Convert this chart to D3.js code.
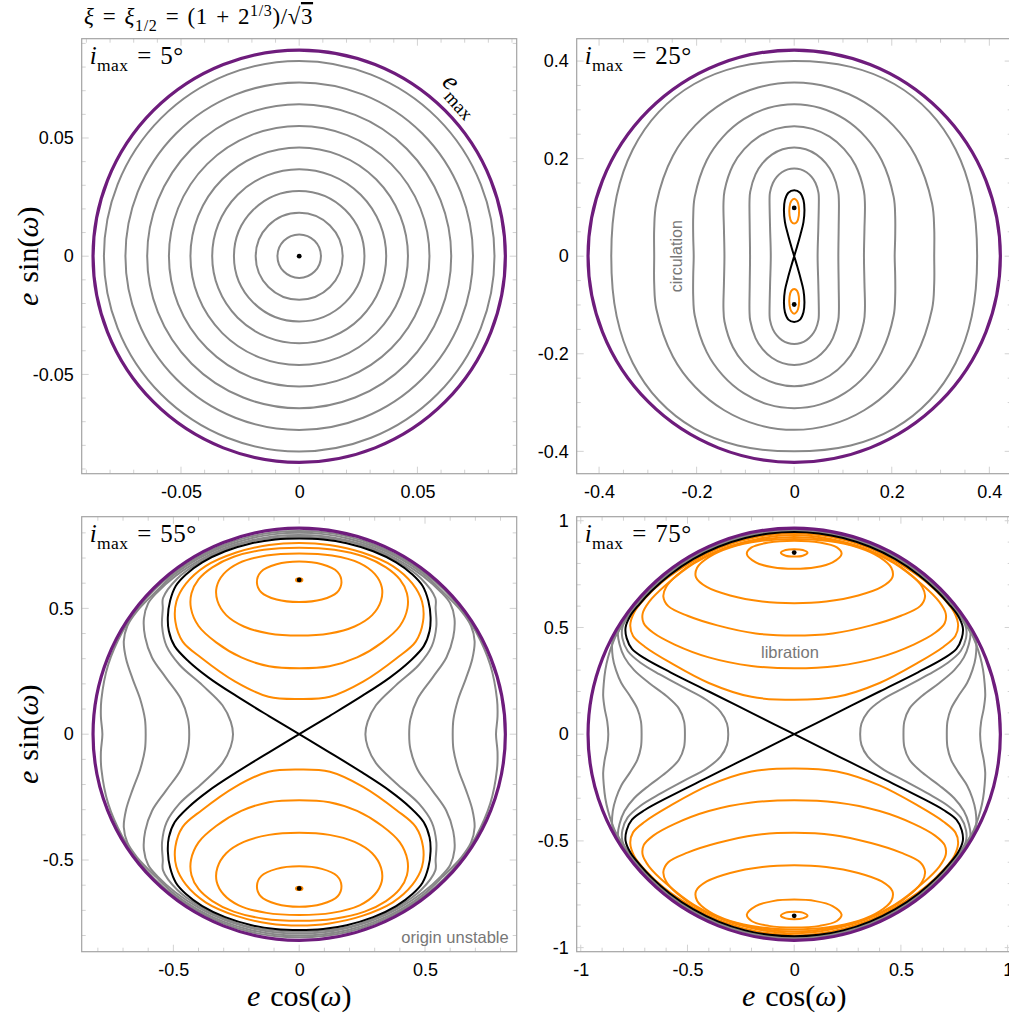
<!DOCTYPE html>
<html><head><meta charset="utf-8">
<script src="https://cdn.jsdelivr.net/npm/d3@7"></script>
<style>body{margin:0;background:#fff}svg{display:block}</style>
</head><body>
<svg id="c" width="1009" height="1019"></svg>
<script>
// ---------------- data ----------------
const iMaxDeg = [5, 25, 55, 75];
const eMaxVals = [0.0872, 0.4226, 0.8192, 0.9659];

const ticks1 = [-0.05, 0, 0.05];
const tickLabels1 = ["-0.05", "0", "0.05"];
const ticks2 = [-0.4, -0.2, 0, 0.2, 0.4];
const tickLabels2 = ["-0.4", "-0.2", "0", "0.2", "0.4"];
const ticks3 = [-0.5, 0, 0.5];
const tickLabels3 = ["-0.5", "0", "0.5"];
const ticks4 = [-1, -0.5, 0, 0.5, 1];
const tickLabels4 = ["-1", "-0.5", "0", "0.5", "1"];

// panel 1 : circulating orbits are circles (radii in e)
const p1GrayRadii = [0.0092, 0.0184, 0.0276, 0.0368, 0.046, 0.0551, 0.0643, 0.0735, 0.0826];
const p1Fixed = [[0, 0]];

// quadrant curves: from (x,0) to (0,y) ; mirrored in both axes
const p2Gray = [
  [[0.048,0],[0.0495,0.06],[0.0505,0.12],[0.0497,0.1304],[0.0437,0.15],[0.0357,0.1624],[0.0253,0.172],[0.0131,0.178],[0,0.18]],
  [[0.0905,0],[0.0912,0.06],[0.0916,0.1128],[0.0902,0.1319],[0.0793,0.1678],[0.0648,0.1906],[0.0458,0.2081],[0.0237,0.2191],[0,0.2228]],
  [[0.143,0],[0.144,0.055],[0.145,0.1065],[0.1428,0.1343],[0.1256,0.1865],[0.1025,0.2196],[0.0725,0.2451],[0.0375,0.261],[0,0.2665]],
  [[0.206,0],[0.207,0.04],[0.207,0.0816],[0.2039,0.1215],[0.1793,0.1966],[0.1464,0.2442],[0.1035,0.2808],[0.0536,0.3038],[0,0.3116]],
  [[0.287,0],[0.287,0.056],[0.2826,0.1081],[0.2485,0.206],[0.2029,0.2681],[0.1435,0.3158],[0.0743,0.3458],[0,0.356]],
  [[0.375,0],[0.3639,0.1234],[0.3309,0.2188],[0.2774,0.2959],[0.2051,0.353],[0.1157,0.3881],[0,0.4]]
];
// separatrix quadrant: origin -> top
const p2Sep = [[0,0],[0.006,0.02],[0.013,0.045],[0.019,0.07],[0.021,0.095],[0.019,0.115],[0.012,0.13],[0,0.135]];
// libration half-curves (upper island, right half, bottom -> top)
const p2Lib = [
  [[0,0.067],[0.006,0.071],[0.0095,0.083],[0.0095,0.101],[0.006,0.113],[0,0.118]]
];
const p2Fixed = [[0, 0.099], [0, -0.099]];

const p3Gray = [
  [[0.263,0],[0.272,0.05],[0.305,0.115],[0.385,0.195],[0.475,0.275],[0.527,0.35],[0.545,0.43],[0.542,0.5],[0.541,0.541],[0.484,0.619],[0.395,0.684],[0.296,0.733],[0.191,0.767],[0.096,0.78],[0,0.785]],
  [[0.437,0],[0.442,0.06],[0.47,0.14],[0.53,0.225],[0.585,0.305],[0.612,0.385],[0.617,0.46],[0.6,0.52],[0.564,0.564],[0.491,0.629],[0.3985,0.69],[0.298,0.738],[0.192,0.77],[0.0967,0.787],[0,0.792]],
  [[0.61,0],[0.613,0.06],[0.632,0.14],[0.662,0.22],[0.688,0.3],[0.697,0.37],[0.683,0.43],[0.645,0.488],[0.568,0.568],[0.496,0.635],[0.4025,0.697],[0.301,0.745],[0.194,0.778],[0.0976,0.795],[0,0.8]],
  [[0.782,0],[0.788,0.07],[0.786,0.1386],[0.759,0.276],[0.703,0.406],[0.645,0.495],[0.575,0.575],[0.5,0.64],[0.4055,0.702],[0.303,0.751],[0.196,0.785],[0.0985,0.802],[0,0.807]]
];
const p3Sep = [[0,0],[0.12,0.072],[0.25,0.152],[0.36,0.225],[0.44,0.29],[0.495,0.35],[0.518,0.41],[0.522,0.465],[0.513,0.53],[0.49,0.59],[0.45,0.635],[0.385,0.683],[0.294,0.727],[0.189,0.759],[0.095,0.774],[0,0.778]];
const p3Lib = [
  [[0,0.525],[0.09,0.535],[0.15,0.563],[0.168,0.603],[0.152,0.645],[0.09,0.675],[0,0.686]],
  [[0,0.392],[0.12,0.4],[0.22,0.428],[0.29,0.473],[0.325,0.53],[0.328,0.585],[0.3,0.637],[0.24,0.68],[0.13,0.71],[0,0.718]],
  [[0,0.262],[0.12,0.27],[0.23,0.305],[0.33,0.365],[0.4,0.43],[0.43,0.5],[0.428,0.56],[0.4,0.615],[0.345,0.663],[0.26,0.705],[0.14,0.733],[0,0.741]],
  [[0,0.14],[0.122,0.149],[0.254,0.209],[0.387,0.302],[0.463,0.368],[0.492,0.447],[0.488,0.527],[0.45,0.598],[0.372,0.668],[0.25,0.722],[0.12,0.752],[0,0.76]]
];
const p3Fixed = [[0, 0.613], [0, -0.613]];

const p4Gray = [
  [[0.309,0],[0.315,0.05],[0.345,0.105],[0.41,0.16],[0.52,0.22],[0.63,0.28],[0.72,0.335],[0.78,0.39],[0.805,0.45],[0.805,0.5],[0.773,0.562],[0.7285,0.611],[0.6725,0.6725],[0.5855,0.749],[0.4755,0.8236],[0.356,0.882],[0.23,0.923],[0.116,0.944],[0,0.951]],
  [[0.512,0],[0.516,0.06],[0.54,0.12],[0.6,0.18],[0.68,0.24],[0.75,0.3],[0.795,0.36],[0.818,0.42],[0.825,0.4765],[0.799,0.519],[0.771,0.56],[0.73,0.6126],[0.674,0.674],[0.5868,0.751],[0.4765,0.8253],[0.357,0.8836],[0.2305,0.9247],[0.1162,0.946],[0,0.953]],
  [[0.715,0],[0.718,0.06],[0.735,0.12],[0.77,0.18],[0.81,0.24],[0.835,0.3],[0.85,0.36],[0.851,0.434],[0.827,0.4775],[0.801,0.52],[0.7726,0.5613],[0.7316,0.6139],[0.6753,0.6753],[0.588,0.7525],[0.4775,0.827],[0.3577,0.8855],[0.231,0.9266],[0.1164,0.9478],[0,0.955]],
  [[0.871,0],[0.876,0.06],[0.888,0.12],[0.895,0.18],[0.892,0.24],[0.885,0.3],[0.872,0.36],[0.853,0.42],[0.828,0.478],[0.8025,0.521],[0.774,0.5625],[0.733,0.615],[0.6767,0.6767],[0.589,0.754],[0.4785,0.829],[0.3585,0.8873],[0.2315,0.9286],[0.1166,0.9498],[0,0.957]]
];
const p4Sep = [[0,0],[0.2,0.1],[0.4,0.2],[0.58,0.29],[0.7,0.355],[0.76,0.4],[0.785,0.45],[0.79,0.5],[0.766,0.557],[0.7254,0.6087],[0.6696,0.6696],[0.583,0.746],[0.4735,0.82],[0.3547,0.878],[0.229,0.919],[0.1154,0.94],[0,0.947]];
const p4Lib = [
  [[0,0.832],[0.04,0.836],[0.0625,0.85],[0.04,0.863],[0,0.867]],
  [[0,0.775],[0.1,0.782],[0.18,0.805],[0.222,0.845],[0.2,0.875],[0.12,0.898],[0,0.906]],
  [[0,0.614],[0.15,0.622],[0.3,0.65],[0.41,0.69],[0.46,0.735],[0.455,0.78],[0.4,0.83],[0.3,0.875],[0.16,0.905],[0,0.915]],
  [[0,0.462],[0.18,0.472],[0.36,0.51],[0.5,0.555],[0.59,0.6],[0.613,0.645],[0.6,0.69],[0.55,0.745],[0.45,0.815],[0.32,0.872],[0.165,0.91],[0,0.924]],
  [[0,0.309],[0.2,0.32],[0.4,0.36],[0.56,0.42],[0.66,0.475],[0.705,0.52],[0.71,0.565],[0.68,0.62],[0.6,0.7],[0.47,0.8],[0.33,0.87],[0.17,0.915],[0,0.933]],
  [[0,0.161],[0.2,0.175],[0.4,0.24],[0.58,0.335],[0.7,0.41],[0.755,0.46],[0.768,0.51],[0.75,0.57],[0.7,0.635],[0.61,0.72],[0.475,0.81],[0.33,0.88],[0.17,0.925],[0,0.942]]
];
const p4Fixed = [[0, 0.851], [0, -0.851]];

// ---------------- styling / layout ----------------
const SERIF = "'Liberation Serif','DejaVu Serif',serif";
const SANS = "'Liberation Sans',Arial,Helvetica,sans-serif";
const C_GRAY = "#888888", C_ORANGE = "#ff8a00", C_BLACK = "#000", C_PURPLE = "#6e1c7c";
const SIZE = 435;
const SP = "\u2004"; // wider math space
const panels = [
  {L: 81.7, T: 38.7, ticks: ticks1, labels: tickLabels1, minor: 0.01, gray: null, radii: p1GrayRadii, sep: null, lib: [], fixed: p1Fixed, ylab: true, xlab: false},
  {L: 576.7, T: 38.7, ticks: ticks2, labels: tickLabels2, minor: 0.05, gray: p2Gray, sep: p2Sep, lib: p2Lib, fixed: p2Fixed, ylab: false, xlab: false},
  {L: 81.7, T: 516.7, ticks: ticks3, labels: tickLabels3, minor: 0.1, gray: p3Gray, sep: p3Sep, lib: p3Lib, fixed: p3Fixed, ylab: true, xlab: true, ring: true},
  {L: 576.7, T: 516.7, ticks: ticks4, labels: tickLabels4, minor: 0.1, gray: p4Gray, sep: p4Sep, lib: p4Lib, fixed: p4Fixed, ylab: false, xlab: true}
];

// ---------------- helpers ----------------
function quadClosed(q) {
  const a = q.slice();
  const b = q.slice(0, -1).reverse().map(([x, y]) => [-x, y]);
  const c = q.slice(1).map(([x, y]) => [-x, -y]);
  const d = q.slice(1, -1).reverse().map(([x, y]) => [x, -y]);
  return a.concat(b, c, d);
}
function halfClosed(h, sy) {
  const a = h.map(([x, y]) => [x, sy * y]);
  const b = h.slice(1, -1).reverse().map(([x, y]) => [-x, sy * y]);
  return a.concat(b);
}
function figure8(q) {
  const ur = q.slice();
  const ul = q.slice(1, -1).reverse().map(([x, y]) => [-x, y]);
  const lr = q.map(([x, y]) => [x, -y]);
  const ll = q.slice(1, -1).reverse().map(([x, y]) => [-x, -y]);
  return ur.concat(ul, lr, ll);
}
function mtext(sel, parts, size, ls) {
  const t = sel.append("text").attr("font-family", SERIF).attr("font-size", size);
  if (ls) t.attr("letter-spacing", ls);
  let shift = 0;
  parts.forEach(p => {
    const ts = t.append("tspan").text(p.t);
    if (p.it) ts.attr("font-style", "italic");
    const target = p.sub ? size * 0.3 : p.sup ? -size * 0.33 : 0;
    if (target !== shift) { ts.attr("dy", target - shift); shift = target; }
    if (p.sub || p.sup) ts.attr("font-size", size * 0.7);
    if (p.over) ts.style("text-decoration", "overline");
  });
  return t;
}

const svg = d3.select("#c");

panels.forEach((P, k) => {
  const D = 1.055 * eMaxVals[k];
  const x = d3.scaleLinear().domain([-D, D]).range([P.L, P.L + SIZE]);
  const y = d3.scaleLinear().domain([-D, D]).range([P.T + SIZE, P.T]);
  const g = svg.append("g");
  const clipId = "clip" + k;
  g.append("clipPath").attr("id", clipId).append("rect")
    .attr("x", P.L).attr("y", P.T).attr("width", SIZE).attr("height", SIZE);

  // minor ticks on frame
  const tg = g.append("g").attr("stroke", "#d2d2d2").attr("stroke-width", 1);
  const mt = d3.range(Math.ceil(-D / P.minor), Math.floor(D / P.minor) + 1).map(i => i * P.minor);
  mt.forEach(v => {
    const isMaj = P.ticks.some(t => Math.abs(t - v) < 1e-9);
    const len = isMaj ? 7 : 4;
    tg.append("line").attr("x1", x(v)).attr("x2", x(v)).attr("y1", P.T + SIZE).attr("y2", P.T + SIZE - len);
    tg.append("line").attr("x1", x(v)).attr("x2", x(v)).attr("y1", P.T).attr("y2", P.T + len);
    tg.append("line").attr("y1", y(v)).attr("y2", y(v)).attr("x1", P.L).attr("x2", P.L + len);
    tg.append("line").attr("y1", y(v)).attr("y2", y(v)).attr("x1", P.L + SIZE).attr("x2", P.L + SIZE - len);
  });

  // tick labels via d3 axes
  const ax = g.append("g").attr("transform", `translate(0,${P.T + SIZE})`)
    .call(d3.axisBottom(x).tickValues(P.ticks).tickFormat((d, i) => P.labels[i]).tickSize(0).tickPadding(12));
  const ay = g.append("g").attr("transform", `translate(${P.L},0)`)
    .call(d3.axisLeft(y).tickValues(P.ticks).tickFormat((d, i) => P.labels[i]).tickSize(0).tickPadding(8));
  [ax, ay].forEach(a => {
    a.select(".domain").remove();
    a.selectAll("text").attr("font-family", SANS).attr("font-size", 18).attr("fill", "#000");
  });

  const body = g.append("g").attr("clip-path", `url(#${clipId})`).attr("fill", "none");
  const line = d3.line().x(d => x(d[0])).y(d => y(d[1])).curve(d3.curveCatmullRomClosed.alpha(0.5));
  const sw = 2;

  if (P.radii) {
    body.selectAll("circle.g").data(P.radii).join("circle")
      .attr("cx", x(0)).attr("cy", y(0)).attr("r", r => x(r) - x(0))
      .attr("stroke", C_GRAY).attr("stroke-width", sw);
  }
  if (P.gray) {
    body.selectAll("path.g").data(P.gray).join("path").attr("class", "g")
      .attr("d", q => line(quadClosed(q))).attr("stroke", C_GRAY).attr("stroke-width", sw);
  }
  const libs = [];
  P.lib.forEach(h => { libs.push(halfClosed(h, 1)); libs.push(halfClosed(h, -1)); });
  body.selectAll("path.o").data(libs).join("path").attr("class", "o")
    .attr("d", line).attr("stroke", C_ORANGE).attr("stroke-width", sw);
  if (P.sep) {
    body.append("path").attr("d", line(figure8(P.sep))).attr("stroke", C_BLACK).attr("stroke-width", sw);
  }
  // e_max circle
  body.append("circle").attr("cx", x(0)).attr("cy", y(0)).attr("r", x(eMaxVals[k]) - x(0))
    .attr("stroke", C_PURPLE).attr("stroke-width", 3.2);
  // fixed points
  if (P.ring) {
    body.selectAll("ellipse.r").data(P.fixed).join("ellipse")
      .attr("cx", d => x(d[0])).attr("cy", d => y(d[1])).attr("rx", 4.2).attr("ry", 2.6)
      .attr("fill", C_ORANGE);
  }
  body.selectAll("circle.f").data(P.fixed).join("circle").attr("class", "f")
    .attr("cx", d => x(d[0])).attr("cy", d => y(d[1])).attr("r", 2.4).attr("fill", "#000");

  // frame
  g.append("rect").attr("x", P.L).attr("y", P.T).attr("width", SIZE).attr("height", SIZE)
    .attr("fill", "none").attr("stroke", "#a3a3a3").attr("stroke-width", 1.2);

  // panel title
  mtext(g, [{t: "i", it: true}, {t: "max", sub: true}, {t: SP + "=" + SP + iMaxDeg[k] + "°"}], 25, 0.4)
    .attr("x", P.L + 8).attr("y", P.T + 25);

  // axis titles
  if (P.xlab) {
    mtext(g, [{t: "e", it: true}, {t: SP + "cos("}, {t: "ω", it: true}, {t: ")"}], 30)
      .attr("x", x(0)).attr("y", 1006).attr("text-anchor", "middle");
  }
  if (P.ylab) {
    mtext(g.append("g").attr("transform", `translate(38,${y(0)}) rotate(-90)`),
      [{t: "e", it: true}, {t: SP + "sin("}, {t: "ω", it: true}, {t: ")"}], 30)
      .attr("x", 0).attr("y", 0).attr("text-anchor", "middle");
  }

  // annotations
  if (k === 0) {
    mtext(svg.append("g").attr("transform", "translate(441,83) rotate(48)"),
      [{t: "e", it: true}, {t: "max", sub: true}], 27);
  }
  if (k === 1) {
    g.append("text").attr("transform", `translate(${x(-0.242) + 6},${y(0)}) rotate(-90)`)
      .attr("text-anchor", "middle").attr("font-family", SANS).attr("font-size", 16).attr("fill", "#777")
      .text("circulation");
  }
  if (k === 2) {
    g.append("text").attr("x", P.L + SIZE - 8).attr("y", P.T + SIZE - 9).attr("text-anchor", "end")
      .attr("font-family", SANS).attr("font-size", 16.5).attr("fill", "#777").text("origin unstable");
  }
  if (k === 3) {
    g.append("text").attr("x", x(-0.02)).attr("y", y(0.385) + 6).attr("text-anchor", "middle")
      .attr("font-family", SANS).attr("font-size", 16.5).attr("fill", "#777").text("libration");
  }
});

// top title
mtext(svg, [{t: "ξ", it: true}, {t: SP + "=" + SP}, {t: "ξ", it: true}, {t: "1/2", sub: true},
  {t: SP + "=" + SP + "(1" + SP + "+" + SP + "2"}, {t: "1/3", sup: true}, {t: ")/√"}, {t: "3", over: true}], 23, 0.6)
  .attr("x", 84).attr("y", 24);
</script></body></html>
